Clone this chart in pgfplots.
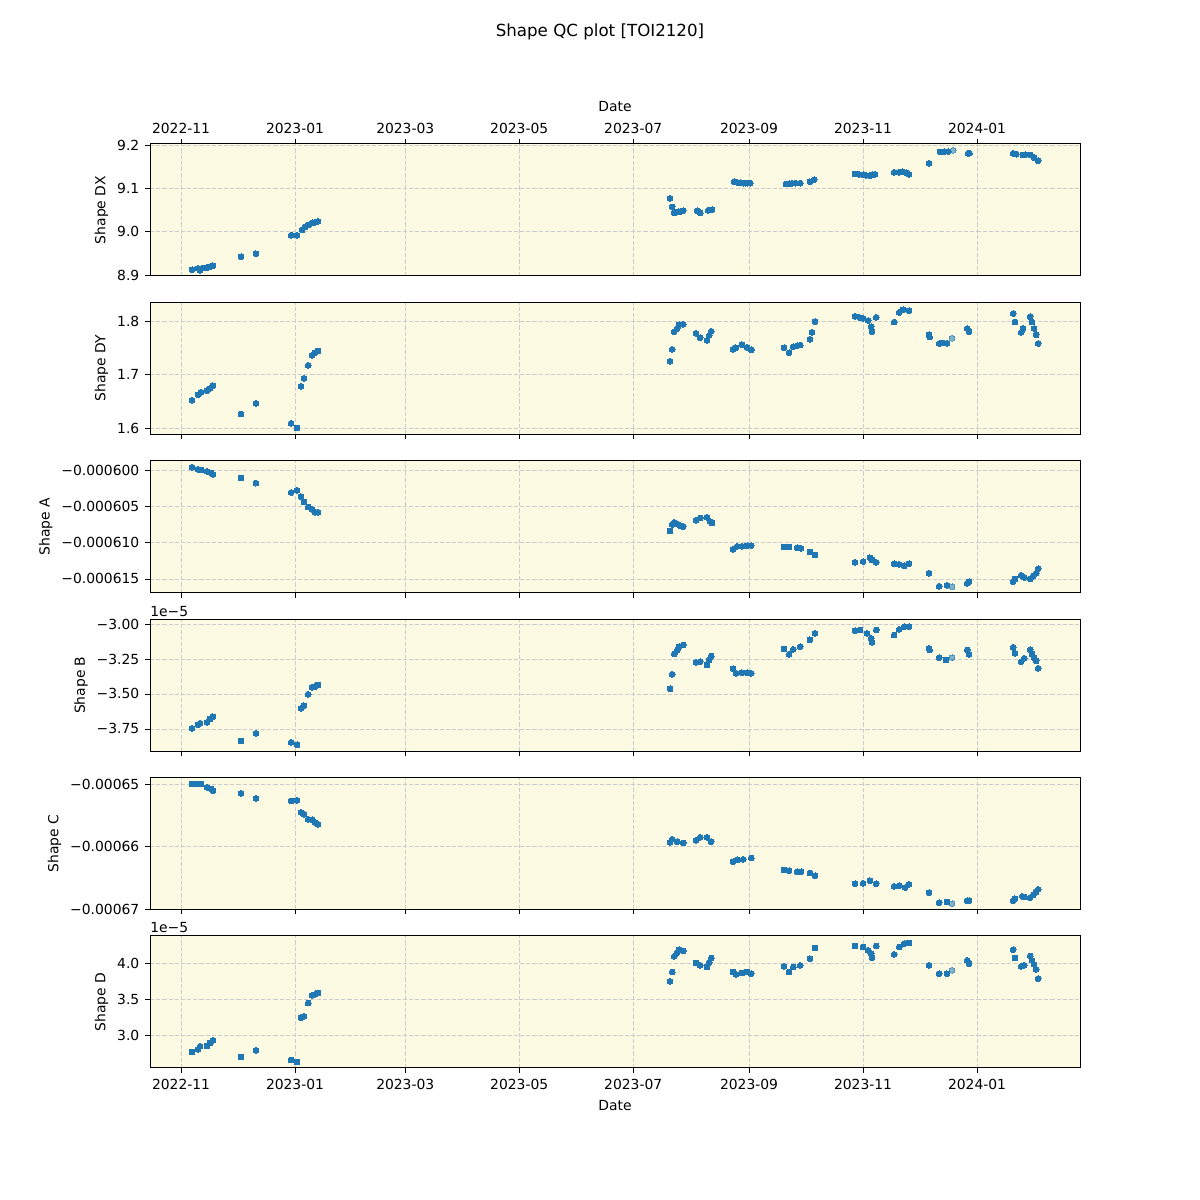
\documentclass[border=0pt]{standalone}
\usepackage{fontspec}
\setmainfont{DejaVu Sans}
\usepackage{pgfplots}
\pgfplotsset{compat=1.18}
\definecolor{mplblue}{HTML}{1F77B4}
\definecolor{bgyellow}{RGB}{252,250,226}
\pgfplotsset{
  qc/.style={
    width=558pt, height=79.2pt, scale only axis,
    anchor=south west,
    clip mode=individual,
    xmin=-16.6, xmax=481.1,
    xtick={0,61,120,181,242,304,365,426},
    xticklabels={2022-11,2023-01,2023-03,2023-05,2023-07,2023-09,2023-11,2024-01},
    axis background/.style={fill=bgyellow},
    grid=major,
    major grid style={dash pattern=on 2.5pt off 1.2pt, color=gray!40, line width=0.45pt},
    tick align=outside, major tick length=2.9pt,
    ytick pos=left,
    scaled y ticks=false,
    every tick/.style={black, line width=0.5pt},
    axis line style={line width=0.6pt},
    tick label style={font=\fontsize{8.33}{10}\selectfont},
    label style={font=\fontsize{8.33}{10}\selectfont},
    ylabel style={yshift=-1.5pt},
    /pgf/number format/assume math mode=true,
  },
  pts/.style={color=mplblue, only marks, mark=*, mark size=1.75pt, mark options={solid, draw=mplblue, fill=mplblue, line width=0pt}},
  ptl/.style={color=mplblue, only marks, mark=*, mark size=1.75pt, mark options={solid, draw=mplblue, fill=mplblue, line width=0pt, opacity=0.55}},
}
\begin{document}
\begin{tikzpicture}
\path[use as bounding box] (0,0) rectangle (720pt,720pt);
\node[font=\fontsize{10}{12}\selectfont] at (360pt,700.8pt) {Shape QC plot [TOI2120]};

% Panel 1: Shape DX
\begin{axis}[qc, at={(90pt,554.4pt)},
  xtick pos=upper, xticklabel pos=upper, xlabel={Date},
  ymin=8.8977, ymax=9.2023, ytick={8.9,9.0,9.1,9.2}, yticklabels={8.9,9.0,9.1,9.2},
  ylabel={Shape DX}]
\addplot[pts] table {
5.9 8.912
9.1 8.915
10.2 8.911
12.0 8.916
13.5 8.917
14.4 8.918
15.8 8.920
17.1 8.921
32.1 8.942
40.1 8.949
58.9 8.992
62.1 8.992
64.8 9.004
66.4 9.011
68.5 9.016
70.6 9.021
72.0 9.022
73.3 9.024
261.7 9.077
262.8 9.057
263.9 9.044
265.0 9.045
266.0 9.046
267.4 9.047
268.7 9.048
276.2 9.048
277.0 9.046
277.8 9.043
282.1 9.049
283.2 9.050
284.2 9.051
296.0 9.115
297.6 9.114
299.2 9.113
300.8 9.112
301.9 9.112
303.2 9.112
304.6 9.112
323.8 9.110
325.4 9.111
327.0 9.112
329.0 9.112
331.3 9.112
336.6 9.115
338.8 9.120
360.7 9.133
362.8 9.132
365.0 9.131
366.8 9.130
368.7 9.129
370.0 9.131
371.4 9.132
381.6 9.137
384.0 9.137
385.9 9.138
388.0 9.136
389.6 9.132
400.3 9.158
406.2 9.184
408.5 9.185
410.5 9.185
421.2 9.181
422.0 9.181
445.3 9.181
447.0 9.179
450.6 9.177
452.0 9.178
454.4 9.177
456.5 9.171
458.7 9.164
};
\addplot[ptl] table {
413.2 9.188
};
\end{axis}

% Panel 2: Shape DY
\begin{axis}[qc, at={(90pt,459.36pt)},
  xtick pos=lower, xticklabels={},
  ymin=1.588, ymax=1.8348, ytick={1.6,1.7,1.8}, yticklabels={1.6,1.7,1.8},
  ylabel={Shape DY}]
\addplot[pts] table {
5.9 1.652
9.1 1.662
10.7 1.667
13.9 1.670
15.5 1.674
17.1 1.679
32.1 1.626
40.1 1.646
58.9 1.609
62.1 1.600
64.2 1.678
65.8 1.693
68.0 1.717
70.1 1.736
71.7 1.741
73.3 1.744
261.7 1.725
262.8 1.747
263.9 1.780
265.5 1.786
266.5 1.793
268.7 1.794
275.6 1.777
277.8 1.769
281.5 1.764
282.6 1.773
283.7 1.781
295.4 1.747
297.0 1.750
300.2 1.756
302.9 1.751
305.1 1.746
322.7 1.750
325.4 1.741
327.6 1.752
329.7 1.754
331.3 1.755
336.6 1.766
337.7 1.779
339.3 1.799
360.7 1.809
363.0 1.807
365.0 1.805
367.7 1.801
369.3 1.789
369.8 1.780
372.0 1.807
381.6 1.798
384.3 1.816
386.4 1.821
389.6 1.819
400.3 1.774
400.6 1.770
405.7 1.758
407.5 1.759
409.9 1.758
420.7 1.786
421.7 1.780
445.3 1.814
446.3 1.798
449.6 1.779
450.6 1.786
454.4 1.808
455.4 1.798
456.5 1.786
457.6 1.774
458.7 1.758
};
\addplot[ptl] table {
412.6 1.768
};
\end{axis}

% Panel 3: Shape A
\begin{axis}[qc, at={(90pt,364.32pt)},
  xtick pos=lower, xticklabels={},
  ymin=-616.91e-6, ymax=-598.73e-6,
  ytick={-0.000615,-0.00061,-0.000605,-0.0006},
  yticklabels={−0.000615,−0.000610,−0.000605,−0.000600},
  ylabel={Shape A}]
\addplot[pts] table {
5.9 -599.6e-6
9.1 -599.9e-6
10.7 -600.0e-6
13.9 -600.2e-6
16.1 -600.4e-6
17.1 -600.6e-6
32.1 -601.1e-6
40.1 -601.8e-6
58.9 -603.1e-6
62.1 -602.8e-6
64.2 -603.7e-6
65.8 -604.4e-6
68.0 -605.1e-6
70.1 -605.4e-6
71.7 -605.8e-6
73.3 -605.8e-6
261.7 -608.4e-6
262.8 -607.5e-6
263.9 -607.2e-6
266.0 -607.5e-6
267.4 -607.7e-6
268.7 -607.8e-6
275.6 -606.9e-6
277.8 -606.6e-6
281.5 -606.5e-6
283.2 -607.1e-6
284.2 -607.3e-6
295.4 -610.9e-6
297.6 -610.5e-6
300.2 -610.5e-6
302.9 -610.4e-6
305.1 -610.4e-6
322.7 -610.6e-6
325.4 -610.6e-6
329.7 -610.7e-6
331.8 -610.8e-6
336.6 -611.3e-6
339.3 -611.7e-6
360.7 -612.7e-6
365.0 -612.6e-6
368.7 -612.1e-6
369.8 -612.4e-6
372.0 -612.7e-6
381.6 -612.9e-6
384.3 -613.0e-6
387.0 -613.2e-6
389.6 -612.9e-6
400.3 -614.2e-6
405.7 -616.0e-6
409.9 -615.9e-6
420.7 -615.6e-6
421.7 -615.4e-6
445.3 -615.4e-6
446.3 -615.0e-6
449.6 -614.5e-6
451.2 -614.8e-6
454.4 -615.0e-6
456.0 -614.6e-6
457.6 -614.2e-6
458.7 -613.6e-6
};
\addplot[ptl] table {
412.6 -616.1e-6
};
\end{axis}

% Panel 4: Shape B (x 1e-5)
\begin{axis}[qc, at={(90pt,269.28pt)},
  xtick pos=lower, xticklabels={},
  ymin=-3.909, ymax=-2.966,
  ytick={-3.75,-3.5,-3.25,-3.0},
  yticklabels={−3.75,−3.50,−3.25,−3.00},
  ylabel={Shape B}]
\addplot[pts] table {
5.9 -3.745
9.1 -3.721
10.2 -3.709
13.9 -3.702
15.5 -3.679
17.1 -3.662
32.1 -3.836
40.1 -3.781
58.9 -3.845
62.1 -3.864
64.2 -3.602
65.8 -3.583
68.0 -3.502
70.1 -3.452
71.7 -3.448
73.3 -3.436
261.7 -3.464
262.8 -3.359
263.9 -3.214
265.5 -3.186
266.5 -3.162
268.7 -3.150
275.6 -3.274
277.8 -3.269
281.5 -3.293
282.6 -3.257
283.7 -3.229
295.4 -3.321
297.0 -3.352
300.2 -3.348
302.9 -3.348
305.1 -3.352
322.7 -3.179
325.4 -3.216
327.6 -3.181
331.3 -3.162
336.6 -3.114
339.3 -3.067
360.7 -3.048
363.4 -3.043
367.1 -3.067
369.3 -3.102
369.8 -3.131
372.0 -3.043
381.6 -3.079
384.3 -3.038
387.0 -3.019
389.6 -3.019
400.3 -3.174
400.6 -3.185
405.7 -3.241
409.4 -3.257
420.7 -3.186
421.7 -3.216
445.3 -3.166
446.3 -3.209
449.6 -3.269
451.2 -3.245
454.4 -3.184
455.4 -3.214
456.5 -3.241
457.6 -3.264
458.7 -3.316
};
\addplot[ptl] table {
412.6 -3.241
};
\node[anchor=south west, inner sep=0pt, font=\fontsize{8.33}{10}\selectfont] at (rel axis cs:0,1) [yshift=1.5pt] {1e−5};
\end{axis}

% Panel 5: Shape C
\begin{axis}[qc, at={(90pt,174.24pt)},
  xtick pos=lower, xticklabels={},
  ymin=-670.02e-6, ymax=-648.98e-6,
  ytick={-0.00067,-0.00066,-0.00065},
  yticklabels={−0.00067,−0.00066,−0.00065},
  ylabel={Shape C}]
\addplot[pts] table {
5.9 -650.0e-6
9.1 -650.0e-6
10.7 -650.0e-6
13.9 -650.5e-6
16.1 -650.8e-6
17.1 -651.1e-6
32.1 -651.5e-6
40.1 -652.3e-6
58.9 -652.7e-6
62.1 -652.6e-6
64.2 -654.5e-6
65.8 -654.8e-6
68.0 -655.6e-6
70.1 -655.7e-6
71.7 -656.1e-6
73.3 -656.4e-6
261.7 -659.3e-6
262.8 -658.8e-6
265.5 -659.2e-6
268.7 -659.4e-6
275.6 -659.0e-6
277.8 -658.5e-6
281.5 -658.5e-6
283.7 -659.2e-6
295.4 -662.4e-6
297.6 -662.1e-6
300.8 -662.0e-6
305.1 -661.8e-6
322.7 -663.7e-6
325.4 -663.8e-6
329.7 -664.0e-6
331.8 -664.0e-6
336.6 -664.2e-6
339.3 -664.6e-6
360.7 -665.9e-6
365.0 -665.8e-6
368.7 -665.4e-6
372.0 -665.9e-6
381.6 -666.3e-6
384.3 -666.2e-6
387.5 -666.5e-6
389.6 -666.0e-6
400.3 -667.3e-6
405.7 -668.9e-6
409.9 -668.8e-6
420.7 -668.6e-6
421.7 -668.6e-6
445.3 -668.6e-6
446.3 -668.3e-6
450.2 -667.9e-6
451.2 -668.0e-6
454.4 -668.1e-6
456.0 -667.7e-6
457.6 -667.2e-6
458.7 -666.8e-6
};
\addplot[ptl] table {
412.6 -669.1e-6
};
\end{axis}

% Panel 6: Shape D (x 1e-5)
\begin{axis}[qc, at={(90pt,79.2pt)},
  xtick pos=lower, xlabel={Date},
  ymin=2.542, ymax=4.375,
  ytick={3.0,3.5,4.0}, yticklabels={3.0,3.5,4.0},
  ylabel={Shape D}]
\addplot[pts] table {
5.9 2.764
9.1 2.801
10.2 2.843
13.9 2.847
15.5 2.889
17.1 2.926
32.1 2.694
40.1 2.787
58.9 2.653
62.1 2.625
64.2 3.240
65.8 3.259
68.0 3.444
70.1 3.551
71.7 3.565
73.3 3.583
261.7 3.746
262.8 3.875
263.9 4.093
265.5 4.143
266.5 4.185
268.7 4.167
275.6 4.000
277.8 3.968
281.5 3.944
282.6 4.004
283.7 4.069
295.4 3.875
297.0 3.843
300.2 3.861
302.9 3.875
305.1 3.851
322.7 3.954
325.4 3.875
327.6 3.944
331.3 3.968
336.6 4.060
339.3 4.208
360.7 4.236
365.0 4.222
367.7 4.176
369.3 4.130
369.8 4.074
372.0 4.236
381.6 4.120
384.3 4.222
387.0 4.268
389.6 4.278
400.3 3.968
405.7 3.851
409.9 3.851
420.7 4.037
421.7 3.990
445.3 4.185
446.3 4.069
449.6 3.954
451.2 3.968
454.4 4.097
455.4 4.037
456.5 3.981
457.6 3.912
458.7 3.782
};
\addplot[ptl] table {
412.6 3.898
};
\node[anchor=south west, inner sep=0pt, font=\fontsize{8.33}{10}\selectfont] at (rel axis cs:0,1) [yshift=1.5pt] {1e−5};
\end{axis}
\end{tikzpicture}
\end{document}
